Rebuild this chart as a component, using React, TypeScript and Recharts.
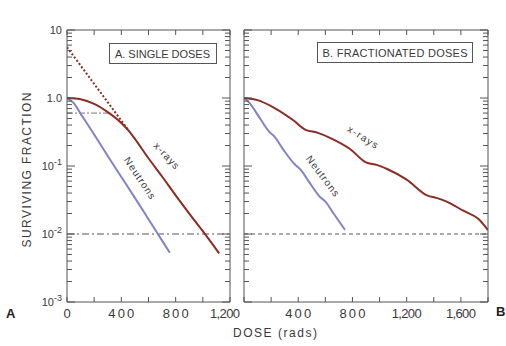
import { LineChart, Line, XAxis, YAxis, ReferenceLine } from "recharts"

// panel A: single doses
const xrayDoseA = [0, 100, 200, 300, 400, 460, 500, 600, 700, 800, 900, 1000, 1120]
const xraySurvA = [1.0, 0.96, 0.82, 0.62, 0.43, 0.32, 0.25, 0.13, 0.07, 0.037, 0.02, 0.011, 0.0052]
const neutronDoseA = [0, 50, 100, 200, 300, 400, 500, 600, 700, 757]
const neutronSurvA = [1.0, 0.84, 0.59, 0.29, 0.14, 0.069, 0.034, 0.0165, 0.008, 0.0053]
const extrapDose = [0, 455]
const extrapSurv = [5.6, 0.33]
const shoulderDose = [0, 310]
const shoulderSurv = [0.6, 0.6]

// panel B: fractionated doses
const xrayDoseB = [0, 100, 216, 364, 455, 540, 634, 782, 900, 980, 1052, 1200, 1355, 1420, 1495, 1618, 1730, 1800]
const xraySurvB = [1.0, 0.93, 0.73, 0.47, 0.34, 0.31, 0.26, 0.178, 0.113, 0.104, 0.091, 0.063, 0.0366, 0.034, 0.03, 0.022, 0.0166, 0.0114]
const neutronDoseB = [0, 40, 100, 185, 225, 285, 376, 416, 476, 561, 601, 661, 745]
const neutronSurvB = [1.0, 0.85, 0.57, 0.32, 0.27, 0.18, 0.105, 0.089, 0.06, 0.035, 0.03, 0.02, 0.0115]

const refLevel = 0.01

const xTicksA = [0, 200, 400, 600, 800, 1000, 1200]
const xLabelsA: Record<number, string> = { 0: "0", 400: "400", 800: "800", 1200: "1,200" }
const xTicksB = [0, 200, 400, 600, 800, 1000, 1200, 1400, 1600, 1800]
const xLabelsB: Record<number, string> = { 400: "400", 800: "800", 1200: "1,200", 1600: "1,600" }

const yDecades = [0.001, 0.01, 0.1, 1]
const yTicks = yDecades.flatMap((d) => [1, 2, 3, 4, 5, 6, 7, 8, 9].map((m) => +(d * m).toPrecision(3))).concat(10)
const yLabels: Record<string, [string, string]> = {
  "10": ["10", ""],
  "1": ["1.0", ""],
  "0.1": ["10", "-1"],
  "0.01": ["10", "-2"],
  "0.001": ["10", "-3"],
}

const XRAY = "#8c2c22"
const NEUTRON = "#8084c6"
const AXIS = "#555"
const TEXT = "#3a3a3a"
const FONT = "'Liberation Sans', Arial, sans-serif"

const pts = (doses: number[], surv: number[]) => doses.map((dose, i) => ({ dose, s: surv[i] }))

const isMajor = (v: number) => Math.abs(Math.log10(v) - Math.round(Math.log10(v))) < 1e-6

function YTick(props: any) {
  const { x, y, payload, side, showLabel } = props
  const v = payload.value
  const major = isMajor(v)
  const dir = side === "left" ? 1 : -1
  const lab = showLabel && major ? yLabels[String(v)] : null
  return (
    <g>
      <line x1={x} x2={x + dir * (major ? 8 : 5)} y1={y} y2={y} stroke={AXIS} strokeWidth={1} />
      {lab && (
        <text x={x - 5} y={y + 4} textAnchor="end" fontSize={11} fill={TEXT} fontFamily={FONT}>
          {lab[0]}
          {lab[1] && (
            <tspan dy={-5} fontSize={9}>
              {lab[1]}
            </tspan>
          )}
        </text>
      )}
    </g>
  )
}

function XTick(props: any) {
  const { x, y, payload, side, labels, maxX } = props
  const v = payload.value
  const dir = side === "bottom" ? -1 : 1
  const lab = labels ? labels[v] : undefined
  const w = lab ? (lab.length > 3 ? 30 : lab.length === 1 ? 9 : 26) : 0
  // keep the last label clear of the next panel
  const cx = maxX ? Math.min(x, maxX - w / 2) : x
  return (
    <g>
      <line x1={x} x2={x} y1={y} y2={y + dir * 5} stroke={AXIS} strokeWidth={1} />
      {lab && (
        <text
          x={cx}
          y={y + 16}
          textAnchor="middle"
          fontSize={13}
          fill={TEXT}
          fontFamily={FONT}
          textLength={w}
          lengthAdjust="spacing"
        >
          {lab}
        </text>
      )}
    </g>
  )
}

// axes are 1px thick so recharts still draws them; the plot box sits just inside
function Frame({ ticks, labels, maxDose, showYLabels, maxX }: any) {
  return [
    <XAxis
      key="xb"
      xAxisId="b"
      type="number"
      dataKey="dose"
      domain={[0, maxDose]}
      ticks={ticks}
      interval={0}
      height={1}
      tickSize={0}
      tickMargin={0}
      tickLine={false}
      axisLine={{ stroke: AXIS }}
      allowDataOverflow
      tick={(p: any) => <XTick {...p} side="bottom" labels={labels} maxX={maxX} />}
    />,
    <XAxis
      key="xt"
      xAxisId="t"
      orientation="top"
      type="number"
      dataKey="dose"
      domain={[0, maxDose]}
      ticks={ticks}
      interval={0}
      height={1}
      tickSize={0}
      tickMargin={0}
      tickLine={false}
      axisLine={{ stroke: AXIS }}
      allowDataOverflow
      tick={(p: any) => <XTick {...p} side="top" />}
    />,
    <YAxis
      key="yl"
      yAxisId="l"
      type="number"
      scale="log"
      domain={[0.001, 10]}
      ticks={yTicks}
      interval={0}
      width={1}
      tickSize={0}
      tickMargin={0}
      tickLine={false}
      axisLine={{ stroke: AXIS }}
      allowDataOverflow
      tick={(p: any) => <YTick {...p} side="left" showLabel={showYLabels} />}
    />,
    <YAxis
      key="yr"
      yAxisId="r"
      orientation="right"
      type="number"
      scale="log"
      domain={[0.001, 10]}
      ticks={yTicks}
      interval={0}
      width={1}
      tickSize={0}
      tickMargin={0}
      tickLine={false}
      axisLine={{ stroke: AXIS }}
      allowDataOverflow
      tick={(p: any) => <YTick {...p} side="right" />}
    />,
  ]
}

function PanelA() {
  return (
    <LineChart width={252} height={346} margin={{ top: 29, right: 21, bottom: 43, left: 66 }}>
      {Frame({ ticks: xTicksA, labels: xLabelsA, maxDose: 1200, showYLabels: true, maxX: 240 })}
      <ReferenceLine xAxisId="b" yAxisId="l" y={refLevel} stroke={AXIS} strokeWidth={1} strokeDasharray="7 3 2 3" />
      <Line xAxisId="b" yAxisId="l" data={pts(shoulderDose, shoulderSurv)} dataKey="s" stroke="#777" strokeWidth={1} strokeDasharray="6 2 2 2" dot={false} isAnimationActive={false} />
      <Line xAxisId="b" yAxisId="l" data={pts(extrapDose, extrapSurv)} dataKey="s" stroke={XRAY} strokeWidth={2} strokeDasharray="2 2" dot={false} isAnimationActive={false} />
      <Line xAxisId="b" yAxisId="l" data={pts(neutronDoseA, neutronSurvA)} dataKey="s" type="monotone" stroke={NEUTRON} strokeWidth={2} dot={false} isAnimationActive={false} />
      <Line xAxisId="b" yAxisId="l" data={pts(xrayDoseA, xraySurvA)} dataKey="s" type="monotone" stroke={XRAY} strokeWidth={2} dot={false} isAnimationActive={false} />
    </LineChart>
  )
}

function PanelB() {
  return (
    <LineChart width={269} height={346} margin={{ top: 29, right: 17, bottom: 43, left: 6 }}>
      {Frame({ ticks: xTicksB, labels: xLabelsB, maxDose: 1800, showYLabels: false })}
      <ReferenceLine xAxisId="b" yAxisId="l" y={refLevel} stroke={AXIS} strokeWidth={1} strokeDasharray="4 3" />
      <Line xAxisId="b" yAxisId="l" data={pts(neutronDoseB, neutronSurvB)} dataKey="s" type="monotone" stroke={NEUTRON} strokeWidth={2} dot={false} isAnimationActive={false} />
      <Line xAxisId="b" yAxisId="l" data={pts(xrayDoseB, xraySurvB)} dataKey="s" type="monotone" stroke={XRAY} strokeWidth={2} dot={false} isAnimationActive={false} />
    </LineChart>
  )
}

function Labels() {
  const t = { fontFamily: FONT, fill: TEXT }
  return (
    <svg width={506} height={346} style={{ position: "absolute", left: 0, top: 0, pointerEvents: "none" }}>
      <rect x={109.5} y={43.5} width={107} height={20} fill="#fff" stroke={AXIS} />
      <text x={162.5} y={57.5} textAnchor="middle" fontSize={11} textLength={95} lengthAdjust="spacing" {...t}>A. SINGLE DOSES</text>
      <rect x={317.5} y={42.5} width={155} height={20} fill="#fff" stroke={AXIS} />
      <text x={395} y={56.5} textAnchor="middle" fontSize={11} textLength={145} lengthAdjust="spacing" {...t}>B. FRACTIONATED DOSES</text>

      <text transform="translate(31,170) rotate(-90)" textAnchor="middle" fontSize={12} textLength={155} lengthAdjust="spacing" {...t}>SURVIVING FRACTION</text>
      <text x={275} y={337} textAnchor="middle" fontSize={12} textLength={84} lengthAdjust="spacing" {...t}>DOSE (rads)</text>

      <text x={6} y={318} fontSize={13} fontWeight="bold" {...t} fill="#222">A</text>
      <text x={496} y={316} fontSize={13} fontWeight="bold" {...t} fill="#222">B</text>

      <text transform="translate(164,158) rotate(47)" textAnchor="middle" fontSize={10} textLength={32} lengthAdjust="spacing" {...t}>x-rays</text>
      <text transform="translate(137,180) rotate(56)" textAnchor="middle" fontSize={10} textLength={48} lengthAdjust="spacing" {...t}>Neutrons</text>
      <text transform="translate(361,140) rotate(32)" textAnchor="middle" fontSize={10} textLength={34} lengthAdjust="spacing" {...t}>x-rays</text>
      <text transform="translate(320,178) rotate(53)" textAnchor="middle" fontSize={10} textLength={48} lengthAdjust="spacing" {...t}>Neutrons</text>
    </svg>
  )
}

export default function App() {
  return (
    <div style={{ position: "absolute", left: 0, top: 0, width: 506, height: 346, background: "#fff" }}>
      <div style={{ position: "absolute", left: 0, top: 0 }}>
        <PanelA />
      </div>
      <div style={{ position: "absolute", left: 237, top: 0 }}>
        <PanelB />
      </div>
      <Labels />
    </div>
  )
}
